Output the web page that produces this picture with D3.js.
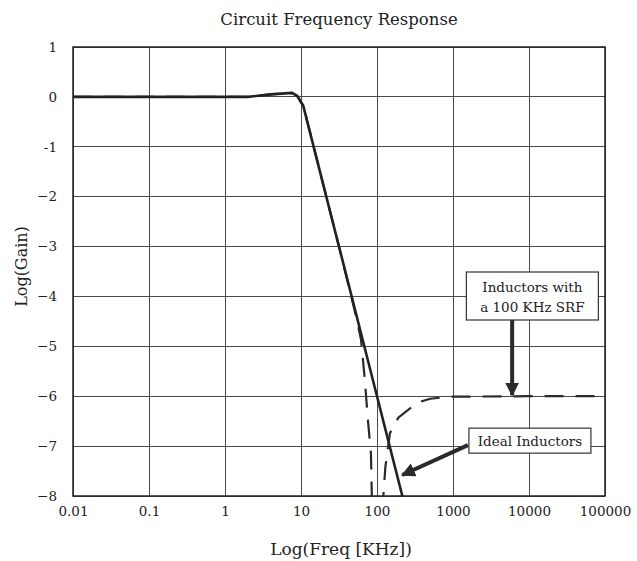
<!DOCTYPE html>
<html>
<head>
<meta charset="utf-8">
<script src="https://cdn.jsdelivr.net/npm/d3@7"></script>
<style>
  body { margin: 0; background: #fff; }
  svg { font-family: "DejaVu Serif", "Liberation Serif", serif; }
  .grid line { stroke: #4a4a4a; stroke-width: 1; shape-rendering: crispEdges; }
</style>
</head>
<body>
<div id="chart"></div>
<script>
// frequency ticks (KHz) and gain ticks
const freqTicks = [0.01, 0.1, 1, 10, 100, 1000, 10000, 100000];
const freqLabels = ["0.01", "0.1", "1", "10", "100", "1000", "10000", "100000"];
const gainTicks = [1, 0, -1, -2, -3, -4, -5, -6, -7, -8];
const gainLabels = ["1", "0", "-1", "\u22122", "\u22123", "\u22124", "\u22125", "\u22126", "\u22127", "\u22128"];

// ideal inductors: [log10(freq KHz), log(gain)]
const idealLogF = [-2, -1, 0, 0.3, 0.6, 0.88, 0.95, 1.03, 1.1, 1.5, 2.0, 2.34];
const idealGain = [0, 0, 0, 0, 0.05, 0.08, 0.02, -0.18, -0.6, -3.0, -6.0, -8.04];

// inductors with 100 KHz SRF (null = notch, off the chart)
const srfLogF = [-2, -1, 0, 0.3, 0.6, 0.88, 0.95, 1.03, 1.1, 1.5, 1.67, 1.74, 1.79, 1.84, 1.88, 1.92, 1.94, 2.0, 2.07, 2.11, 2.17, 2.28, 2.53, 2.7, 2.96, 4, 5];
const srfGain = [0, 0, 0, 0, 0.05, 0.08, 0.02, -0.18, -0.6, -3.0, -4.05, -4.5, -4.87, -5.67, -6.47, -7.14, -8.6, null, -8.3, -7.42, -6.74, -6.43, -6.13, -6.05, -6.01, -6.0, -6.0];

const width = 637, height = 561;
const margin = { top: 47, right: 32, bottom: 65, left: 73 };

const svg = d3.select("#chart").append("svg")
    .attr("width", width)
    .attr("height", height);

const xScale = d3.scaleLog()
    .domain([0.01, 100000])
    .range([margin.left, width - margin.right]);

const yScale = d3.scaleLinear()
    .domain([-8, 1])
    .range([height - margin.bottom, margin.top]);

svg.append("defs").append("clipPath").attr("id", "plotClip")
  .append("rect")
    .attr("x", margin.left).attr("y", margin.top)
    .attr("width", xScale.range()[1] - margin.left)
    .attr("height", yScale.range()[0] - margin.top);

const marker = svg.select("defs").append("marker")
    .attr("id", "head")
    .attr("viewBox", "0 0 10 10")
    .attr("refX", 9).attr("refY", 5)
    .attr("markerUnits", "userSpaceOnUse")
    .attr("markerWidth", 14).attr("markerHeight", 14)
    .attr("orient", "auto");
marker.append("path").attr("d", "M0,0 L10,5 L0,10 z").attr("fill", "#2a2a2a");

// grid
const grid = svg.append("g").attr("class", "grid");
grid.selectAll(".vx").data(freqTicks).join("line")
    .attr("x1", d => xScale(d)).attr("x2", d => xScale(d))
    .attr("y1", yScale(1)).attr("y2", yScale(-8));
grid.selectAll(".hy").data(gainTicks).join("line")
    .attr("x1", xScale(0.01)).attr("x2", xScale(100000))
    .attr("y1", d => yScale(d)).attr("y2", d => yScale(d));

svg.append("rect")
    .attr("x", margin.left).attr("y", margin.top)
    .attr("width", xScale.range()[1] - margin.left)
    .attr("height", yScale.range()[0] - margin.top)
    .attr("fill", "none").attr("stroke", "#222").attr("stroke-width", 1.5);

// axes
const xAxis = d3.axisBottom(xScale)
    .tickValues(freqTicks)
    .tickFormat((d, i) => freqLabels[i])
    .tickSize(0).tickPadding(10);
svg.append("g")
    .attr("transform", `translate(0,${yScale(-8)})`)
    .call(xAxis)
    .call(g => g.select(".domain").remove())
    .selectAll("text")
    .attr("font-family", "DejaVu Serif").attr("font-size", 13.5).attr("fill", "#222");

const yAxis = d3.axisLeft(yScale)
    .tickValues(gainTicks)
    .tickFormat((d, i) => gainLabels[i])
    .tickSize(0).tickPadding(16);
svg.append("g")
    .attr("transform", `translate(${margin.left},0)`)
    .call(yAxis)
    .call(g => g.select(".domain").remove())
    .selectAll("text")
    .attr("font-family", "DejaVu Serif").attr("font-size", 13.5).attr("fill", "#222");

// curves
const line = d3.line()
    .defined(d => d[1] !== null)
    .x(d => xScale(Math.pow(10, d[0])))
    .y(d => yScale(d[1]));

const plot = svg.append("g").attr("clip-path", "url(#plotClip)");

plot.append("path")
    .datum(srfLogF.map((f, i) => [f, srfGain[i]]))
    .attr("d", line)
    .attr("fill", "none")
    .attr("stroke", "#2a2a2a")
    .attr("stroke-width", 2.2)
    .attr("stroke-dasharray", "19,12");

plot.append("path")
    .datum(idealLogF.map((f, i) => [f, idealGain[i]]))
    .attr("d", line)
    .attr("fill", "none")
    .attr("stroke", "#222")
    .attr("stroke-width", 2.6);

// annotations
const box1 = { x: xScale(1500), y: yScale(-3.51), w: 132, h: 48 };
svg.append("rect")
    .attr("x", box1.x).attr("y", box1.y).attr("width", box1.w).attr("height", box1.h)
    .attr("fill", "#fff").attr("stroke", "#333").attr("stroke-width", 1.2);
svg.append("text").attr("x", box1.x + box1.w / 2).attr("y", box1.y + 20)
    .attr("text-anchor", "middle").attr("font-size", 13.5).attr("fill", "#222")
    .text("Inductors with");
svg.append("text").attr("x", box1.x + box1.w / 2).attr("y", box1.y + 40)
    .attr("text-anchor", "middle").attr("font-size", 13.5).attr("fill", "#222")
    .text("a 100 KHz SRF");
svg.append("line")
    .attr("x1", xScale(6000)).attr("y1", box1.y + box1.h)
    .attr("x2", xScale(6000)).attr("y2", yScale(-6) - 1)
    .attr("stroke", "#2a2a2a").attr("stroke-width", 4)
    .attr("marker-end", "url(#head)");

const box2 = { x: xScale(1620), y: yScale(-6.64), w: 122, h: 25 };
svg.append("rect")
    .attr("x", box2.x).attr("y", box2.y).attr("width", box2.w).attr("height", box2.h)
    .attr("fill", "#fff").attr("stroke", "#333").attr("stroke-width", 1.2);
svg.append("text").attr("x", box2.x + box2.w / 2).attr("y", box2.y + 18)
    .attr("text-anchor", "middle").attr("font-size", 13.5).attr("fill", "#222")
    .text("Ideal Inductors");
svg.append("line")
    .attr("x1", box2.x - 1).attr("y1", box2.y + 17)
    .attr("x2", xScale(215)).attr("y2", yScale(-7.58))
    .attr("stroke", "#2a2a2a").attr("stroke-width", 4)
    .attr("marker-end", "url(#head)");

// titles
svg.append("text")
    .attr("x", 339).attr("y", 25)
    .attr("text-anchor", "middle").attr("font-size", 16.5).attr("fill", "#222")
    .text("Circuit Frequency Response");

svg.append("text")
    .attr("x", 341).attr("y", 555)
    .attr("text-anchor", "middle").attr("font-size", 17).attr("fill", "#222")
    .text("Log(Freq [KHz])");

svg.append("text")
    .attr("transform", `translate(27,${yScale(-3.4)}) rotate(-90)`)
    .attr("text-anchor", "middle").attr("font-size", 16).attr("fill", "#222")
    .text("Log(Gain)");
</script>
</body>
</html>
